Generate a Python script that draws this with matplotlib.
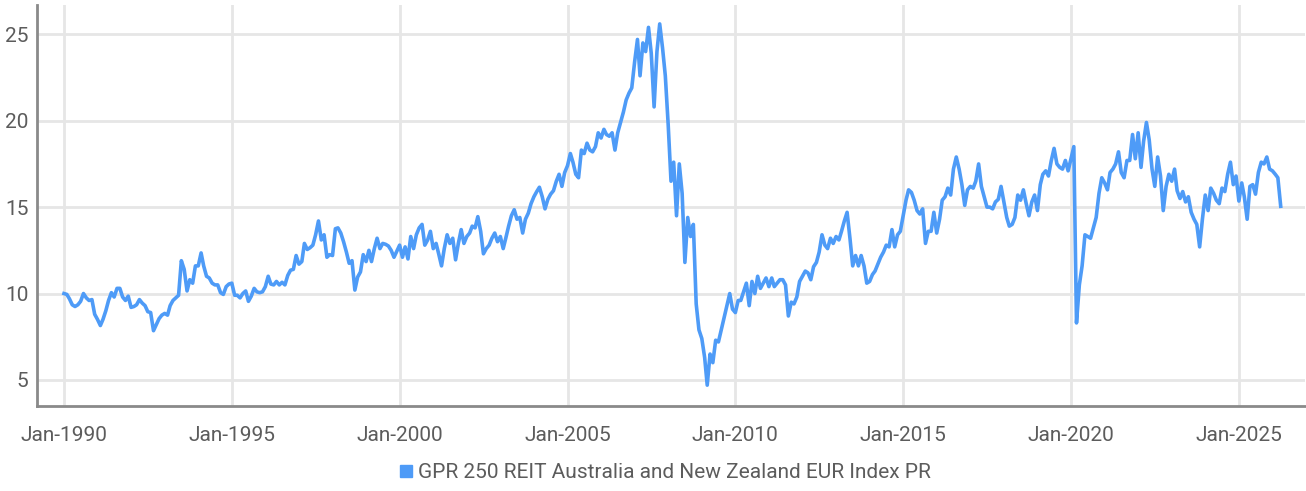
import numpy as np
import matplotlib
matplotlib.use("Agg")
import matplotlib.pyplot as plt
from matplotlib.lines import Line2D

# ---- data (monthly readings, Jan-1990 .. Apr-2026) ----
series_name = "GPR 250 REIT Australia and New Zealand EUR Index PR"
start_month = "1990-01"
end_month = "2026-05"  # exclusive

y1990 = [10.0, 9.95, 9.7, 9.35, 9.25, 9.35, 9.55, 10.0, 9.75, 9.6, 9.65, 8.8]
y1991 = [8.5, 8.15, 8.5, 9.0, 9.6, 10.05, 9.8, 10.3, 10.3, 9.8, 9.6, 9.85]
y1992 = [9.2, 9.25, 9.35, 9.65, 9.45, 9.3, 8.95, 8.9, 7.85, 8.2, 8.55, 8.75]
y1993 = [8.85, 8.75, 9.3, 9.6, 9.75, 9.9, 11.9, 11.4, 10.15, 10.8, 10.6, 11.6]
y1994 = [11.6, 12.35, 11.6, 11.0, 10.9, 10.6, 10.5, 10.5, 10.05, 9.95, 10.4, 10.55]
y1995 = [10.6, 9.9, 9.9, 9.75, 10.0, 10.15, 9.55, 9.85, 10.3, 10.1, 10.05, 10.1]
y1996 = [10.4, 11.0, 10.55, 10.5, 10.7, 10.5, 10.65, 10.5, 11.05, 11.35, 11.4, 12.2]
y1997 = [11.7, 11.85, 12.9, 12.55, 12.65, 12.8, 13.4, 14.2, 13.1, 13.4, 12.1, 12.25]
y1998 = [12.2, 13.75, 13.8, 13.5, 13.0, 12.4, 11.75, 11.9, 10.2, 10.95, 11.25, 12.25]
y1999 = [11.85, 12.5, 11.85, 12.6, 13.2, 12.6, 12.9, 12.85, 12.75, 12.5, 12.1, 12.45]
y2000 = [12.8, 12.1, 12.7, 12.0, 13.3, 12.6, 13.4, 13.8, 14.0, 12.8, 13.1, 13.6]
y2001 = [12.6, 12.9, 12.3, 11.6, 12.6, 13.4, 12.9, 13.2, 11.95, 12.9, 13.7, 12.9]
y2002 = [13.3, 13.5, 13.9, 13.8, 14.45, 13.6, 12.3, 12.6, 12.8, 13.2, 13.5, 13.0]
y2003 = [13.3, 12.6, 13.2, 13.9, 14.5, 14.85, 14.3, 14.4, 13.5, 14.3, 14.65, 15.2]
y2004 = [15.6, 15.9, 16.15, 15.6, 14.9, 15.45, 15.75, 15.95, 16.5, 16.9, 16.2, 17.0]
y2005 = [17.4, 18.1, 17.6, 16.9, 16.7, 18.3, 18.1, 18.7, 18.3, 18.2, 18.5, 19.3]
y2006 = [19.0, 19.5, 19.2, 19.1, 19.3, 18.3, 19.3, 19.9, 20.5, 21.2, 21.6, 21.9]
y2007 = [23.4, 24.7, 22.6, 24.5, 24.0, 25.4, 23.9, 20.8, 24.0, 25.6, 24.2, 22.6]
y2008 = [19.8, 16.5, 17.6, 14.5, 17.5, 15.8, 11.8, 14.4, 13.3, 14.0, 9.4, 7.9]
y2009 = [7.4, 6.3, 4.7, 6.5, 6.0, 7.3, 7.2, 7.9, 8.6, 9.3, 10.0, 9.1]
y2010 = [8.9, 9.6, 9.6, 10.1, 10.6, 9.3, 10.7, 10.0, 11.0, 10.3, 10.6, 10.9]
y2011 = [10.4, 10.9, 10.4, 10.6, 10.8, 10.8, 10.5, 8.7, 9.5, 9.4, 9.8, 10.7]
y2012 = [11.0, 11.3, 11.2, 10.8, 11.55, 11.8, 12.4, 13.4, 12.8, 12.6, 13.2, 12.9]
y2013 = [13.3, 13.1, 13.6, 14.2, 14.7, 13.2, 11.6, 12.2, 11.6, 12.2, 11.6, 10.6]
y2014 = [10.7, 11.1, 11.3, 11.7, 12.1, 12.4, 12.8, 12.7, 13.7, 12.7, 13.4, 13.6]
y2015 = [14.5, 15.4, 16.0, 15.85, 15.4, 14.8, 14.6, 14.9, 12.9, 13.6, 13.6, 14.7]
y2016 = [13.5, 14.3, 15.4, 15.6, 16.1, 15.7, 17.2, 17.9, 17.2, 16.3, 15.1, 16.0]
y2017 = [16.2, 16.1, 16.5, 17.5, 16.2, 15.6, 15.0, 15.0, 14.9, 15.3, 15.45, 16.2]
y2018 = [15.3, 14.4, 13.9, 14.0, 14.4, 15.7, 15.4, 16.0, 15.2, 14.5, 15.3, 15.7]
y2019 = [14.8, 16.3, 16.9, 17.1, 16.8, 17.7, 18.4, 17.5, 17.3, 17.2, 17.7, 17.1]
y2020 = [17.8, 18.5, 8.3, 10.5, 11.6, 13.4, 13.3, 13.2, 13.8, 14.4, 15.8, 16.7]
y2021 = [16.4, 16.0, 17.0, 17.2, 17.5, 18.2, 17.0, 16.7, 17.7, 17.7, 19.2, 17.8]
y2022 = [19.3, 17.3, 18.8, 19.9, 18.9, 17.2, 16.2, 17.9, 16.8, 14.8, 16.2, 16.9]
y2023 = [16.5, 17.2, 15.95, 15.5, 15.9, 15.3, 15.6, 14.7, 14.3, 14.0, 12.7, 14.3]
y2024 = [15.7, 14.8, 16.1, 15.8, 15.4, 15.2, 16.1, 15.9, 16.9, 17.6, 16.3, 16.8]
y2025 = [15.35, 16.4, 15.6, 14.3, 16.2, 16.3, 15.75, 17.0, 17.6, 17.5, 17.9, 17.2]
y2026 = [17.1, 16.9, 16.7, 15.05]

values = np.concatenate([
    y1990, y1991, y1992, y1993, y1994, y1995, y1996, y1997, y1998, y1999,
    y2000, y2001, y2002, y2003, y2004, y2005, y2006, y2007, y2008, y2009,
    y2010, y2011, y2012, y2013, y2014, y2015, y2016, y2017, y2018, y2019,
    y2020, y2021, y2022, y2023, y2024, y2025, y2026])
dates = np.arange(start_month, end_month, dtype="datetime64[M]").astype("datetime64[D]")

y_ticks = [5, 10, 15, 20, 25]
x_tick_years = [1990, 1995, 2000, 2005, 2010, 2015, 2020, 2025]

# ---- style ----
line_color = "#4e9bf7"
grid_color = "#e6e6e6"
axis_color = "#8a8a8a"
text_color = "#5c5c5c"
fam = ["Roboto", "DejaVu Sans"]

fig = plt.figure(figsize=(13.06, 4.91), dpi=100)
ax = fig.add_axes([0.0283, 0.173, 0.9707, 0.817])

ax.plot(dates, values, color=line_color, linewidth=2.6, solid_joinstyle="round", zorder=3)

ax.set_ylim(3.49, 26.7)
ax.set_xlim(np.datetime64("1989-03-13"), np.datetime64("2026-12-18"))
ax.set_yticks(y_ticks)
ax.set_yticklabels([str(t) for t in y_ticks])
xt = [np.datetime64(f"{y}-01-01") for y in x_tick_years]
ax.set_xticks(xt)
ax.set_xticklabels([f"Jan-{y}" for y in x_tick_years])

ax.grid(True, color=grid_color, linewidth=2, zorder=0)
ax.set_axisbelow(True)
for s in ["top", "right"]:
    ax.spines[s].set_visible(False)
for s in ["left", "bottom"]:
    ax.spines[s].set_color(axis_color)
    ax.spines[s].set_linewidth(2)

ax.tick_params(axis="both", length=0, colors=text_color, labelsize=15)
ax.tick_params(axis="x", pad=14)
ax.tick_params(axis="y", pad=6)
for lab in ax.get_xticklabels() + ax.get_yticklabels():
    lab.set_family(fam)
    lab.set_color(text_color)

handle = Line2D([], [], marker="s", linestyle="none", color=line_color, markersize=8)
leg = fig.legend([handle], [series_name], loc="center", bbox_to_anchor=(0.508, 0.037),
                 frameon=False, handletextpad=0.1, handlelength=1.0,
                 prop={"family": fam, "size": 15})
for t in leg.get_texts():
    t.set_color(text_color)

fig.savefig("out.png", dpi=100)
